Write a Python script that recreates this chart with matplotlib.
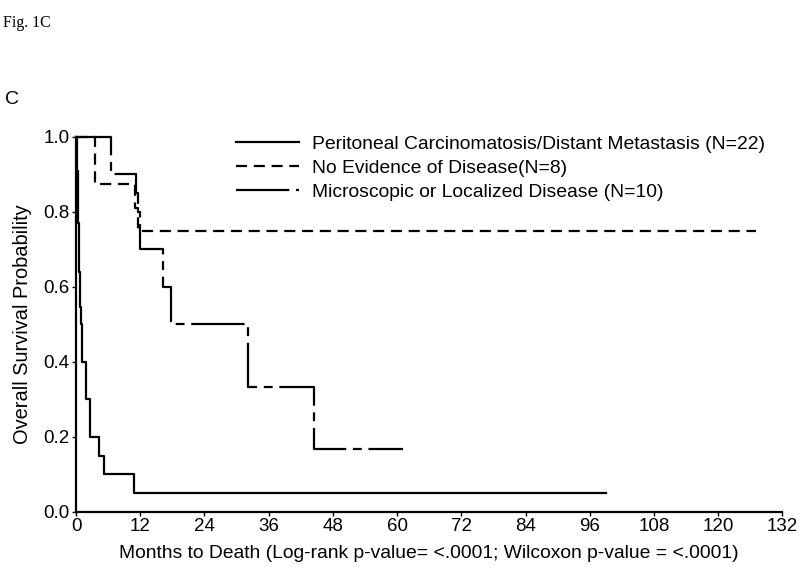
import matplotlib.pyplot as plt

# Kaplan-Meier step data (months, survival)
pc_t = [0, 0.1, 0.2, 0.3, 0.4, 0.5, 0.6, 0.7, 0.8, 0.9, 1.2, 1.8, 2.7, 4.3, 5.2, 10.8, 99]
pc_s = [1.0, 0.95, 0.91, 0.86, 0.77, 0.68, 0.64, 0.59, 0.545, 0.5, 0.4, 0.3, 0.2, 0.15, 0.1, 0.05, 0.05]

ned_t = [0, 3.5, 11.1, 11.5, 127]
ned_s = [1.0, 0.875, 0.81, 0.75, 0.75]

mld_t = [0, 6.5, 11.2, 11.6, 12.0, 16.2, 17.7, 32.2, 44.5, 61.1]
mld_s = [1.0, 0.9, 0.85, 0.8, 0.7, 0.6, 0.5, 0.333, 0.167, 0.167]

labels = ['Peritoneal Carcinomatosis/Distant Metastasis (N=22)',
          'No Evidence of Disease(N=8)',
          'Microscopic or Localized Disease (N=10)']

plt.rcParams['font.family'] = ['Liberation Sans', 'DejaVu Sans']

fig = plt.figure(figsize=(8, 5.87), dpi=100)
ax = fig.add_axes([0.095, 0.128, 0.883, 0.639])

ax.step(pc_t, pc_s, where='post', color='black', lw=1.6, label=labels[0], clip_on=False)
ax.step(ned_t, ned_s, where='post', color='black', lw=1.6, dashes=(5, 3), label=labels[1], clip_on=False)
ax.step(mld_t, mld_s, where='post', color='black', lw=1.6, dashes=(24, 3, 4, 3), label=labels[2], clip_on=False)

ax.set_xlim(0, 132)
ax.set_ylim(0, 1.0)
ax.set_xticks(range(0, 133, 12))
ax.set_yticks([0, 0.2, 0.4, 0.6, 0.8, 1.0])
ax.set_yticklabels(['0.0', '0.2', '0.4', '0.6', '0.8', '1.0'])
ax.tick_params(labelsize=13.5, length=3, width=1, pad=1.5)
for s in ['top', 'right']:
    ax.spines[s].set_visible(False)
for s in ['left', 'bottom']:
    ax.spines[s].set_linewidth(1.6)

ax.set_xlabel('Months to Death (Log-rank p-value= <.0001; Wilcoxon p-value = <.0001)', fontsize=13.9, labelpad=7)
ax.set_ylabel('Overall Survival Probability', fontsize=14.4, labelpad=8)

ax.legend(loc='upper left', bbox_to_anchor=(0.285, 0.782), bbox_transform=fig.transFigure,
          borderaxespad=0, frameon=False, fontsize=13.9,
          handlelength=3.3, handletextpad=0.67, labelspacing=0.32)

fig.text(0.004, 0.975, 'Fig. 1C', family='Liberation Serif', fontsize=11.5, va='top')
fig.text(0.006, 0.83, 'C', fontsize=14, va='center')

fig.savefig('out.png', dpi=100)
